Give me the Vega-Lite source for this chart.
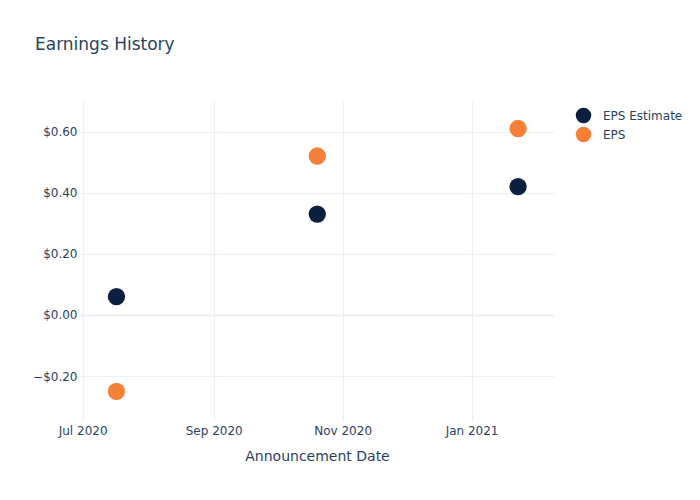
{
  "$schema": "https://vega.github.io/schema/vega-lite/v6.json",
  "width": 474,
  "height": 320,
  "autosize": {"type": "none"},
  "padding": {"left": 80, "top": 101, "right": 146, "bottom": 79},
  "background": "white",
  "title": {
    "text": "Earnings History",
    "anchor": "start",
    "frame": "group",
    "dx": -45,
    "offset": 47,
    "fontSize": 17,
    "font": "DejaVu Sans",
    "fontWeight": "normal",
    "color": "#2a3f5f"
  },
  "data": {
    "values": [
      {"date": "2020-07-17", "series": "EPS Estimate", "value": 0.06},
      {"date": "2020-10-20", "series": "EPS Estimate", "value": 0.33},
      {"date": "2021-01-23", "series": "EPS Estimate", "value": 0.42},
      {"date": "2020-07-17", "series": "EPS", "value": -0.25},
      {"date": "2020-10-20", "series": "EPS", "value": 0.52},
      {"date": "2021-01-23", "series": "EPS", "value": 0.61}
    ]
  },
  "mark": {"type": "point", "filled": true, "shape": "circle", "size": 300, "opacity": 1},
  "encoding": {
    "x": {
      "field": "date",
      "type": "temporal",
      "title": "Announcement Date",
      "scale": {"domain": [{"year": 2020, "month": 6, "date": 29, "hours": 18}, {"year": 2021, "month": 2, "date": 9}]},
      "axis": {
        "values": [
          {"year": 2020, "month": 7, "date": 1},
          {"year": 2020, "month": 9, "date": 1},
          {"year": 2020, "month": 11, "date": 1},
          {"year": 2021, "month": 1, "date": 1}
        ],
        "format": "%b %Y",
        "grid": true,
        "gridColor": "#ebf0f8",
        "gridWidth": 1,
        "domain": false,
        "ticks": false,
        "labelPadding": 4,
        "labelFont": "DejaVu Sans",
        "labelFontSize": 12,
        "labelColor": "#2a3f5f",
        "titleFont": "DejaVu Sans",
        "titleFontSize": 14,
        "titleFontWeight": "normal",
        "titleColor": "#2a3f5f",
        "titlePadding": 13
      }
    },
    "y": {
      "field": "value",
      "type": "quantitative",
      "title": null,
      "scale": {"domain": [-0.347, 0.70], "nice": false, "zero": false},
      "axis": {
        "values": [-0.2, 0, 0.2, 0.4, 0.6],
        "format": "$.2f",
        "grid": true,
        "gridColor": "#ebf0f8",
        "gridWidth": {"condition": {"test": "datum.value === 0", "value": 2}, "value": 1},
        "domain": false,
        "ticks": false,
        "labelPadding": 3,
        "labelFont": "DejaVu Sans",
        "labelFontSize": 12,
        "labelColor": "#2a3f5f"
      }
    },
    "color": {
      "field": "series",
      "type": "nominal",
      "scale": {"domain": ["EPS Estimate", "EPS"], "range": ["#0b1f40", "#f68037"]},
      "legend": {
        "title": null,
        "orient": "none",
        "legendX": 495,
        "legendY": 6,
        "symbolType": "circle",
        "symbolSize": 240,
        "symbolOpacity": 1,
        "labelFont": "DejaVu Sans",
        "labelFontSize": 12,
        "labelColor": "#2a3f5f",
        "labelOffset": 11,
        "rowPadding": 2
      }
    }
  },
  "config": {
    "view": {"stroke": null}
  }
}
